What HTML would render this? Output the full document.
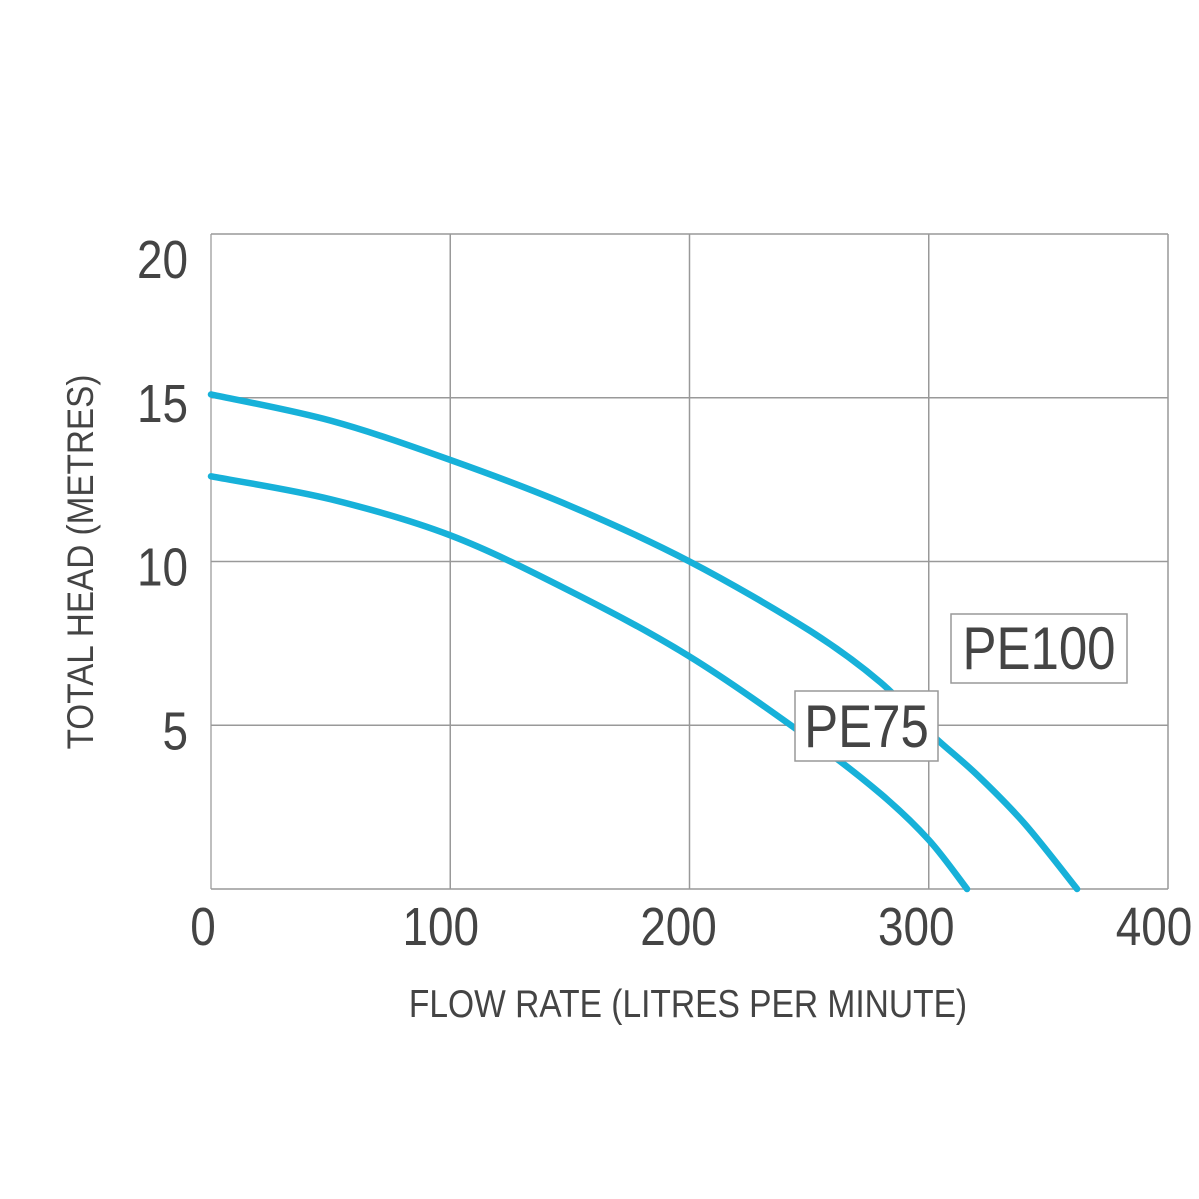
<!DOCTYPE html>
<html><head><meta charset="utf-8"><style>
html,body{margin:0;padding:0;background:#fff;}
svg{display:block;}
text{font-family:"Liberation Sans",sans-serif;fill:#444;}
</style></head><body>
<svg id="chart" width="1199" height="1199" viewBox="0 0 1199 1199" xmlns="http://www.w3.org/2000/svg">
<g id="grid"></g>
<g id="ticks"></g>
<g id="series"></g>
<g id="labels"></g>
<text transform="translate(93,562) rotate(-90) scale(0.9,1)" text-anchor="middle" font-size="37" fill="#444">TOTAL HEAD (METRES)</text>
<text transform="translate(688,1017) scale(0.86,1)" text-anchor="middle" font-size="39" fill="#444">FLOW RATE (LITRES PER MINUTE)</text>
</svg>
<script>
const xTicks = [0, 100, 200, 300, 400];
const yTicks = [5, 10, 15, 20];
const xTickLabels = ["0", "100", "200", "300", "400"];
const yTickLabels = ["5", "10", "15", "20"];
const pe100Flow = [0, 50, 100, 150, 200, 250, 280, 300, 320, 340, 362];
const pe100Head = [15.1, 14.3, 13.1, 11.7, 10.0, 7.9, 6.3, 4.8, 3.5, 2.0, 0];
const pe75Flow = [0, 50, 100, 150, 200, 250, 280, 300, 316];
const pe75Head = [12.6, 11.9, 10.8, 9.1, 7.1, 4.6, 2.9, 1.5, 0];
const seriesNames = ["PE100", "PE75"];

const X0 = 211, X1 = 1168, Y0 = 889, Y1 = 234;
const xs = v => X0 + (v / 400) * (X1 - X0);
const ys = v => Y0 - (v / 20) * (Y0 - Y1);
const NS = "http://www.w3.org/2000/svg";
function mk(tag, parent, attrs) {
  const e = document.createElementNS(NS, tag);
  for (const k in attrs) e.setAttribute(k, attrs[k]);
  parent.appendChild(e);
  return e;
}
const grid = document.getElementById('grid');
const ticks = document.getElementById('ticks');
const series = document.getElementById('series');
const labels = document.getElementById('labels');

xTicks.forEach((t, i) => {
  const l = mk('line', grid, {x1: xs(t), x2: xs(t), y1: Y1, y2: Y0, stroke: i === 0 ? '#aaa' : '#999', 'stroke-width': 1.5});
  
  
  const tx = mk('text', ticks, {transform: `translate(${xs(t) - 8 - i * 1.5},945) scale(0.85,1)`, 'text-anchor': 'middle', 'font-size': 54});
  tx.textContent = xTickLabels[i];
  
  
});
const b = mk('line', grid, {x1: X0, x2: X1, y1: Y0, y2: Y0, stroke: '#999', 'stroke-width': 1.5});


yTicks.forEach((t, i) => {
  const l = mk('line', grid, {x1: X0, x2: X1, y1: ys(t), y2: ys(t), stroke: '#999', 'stroke-width': 1.5});
  
  
  const off = t === 20 ? 44 : 24;
  const tx = mk('text', ticks, {transform: `translate(188,${ys(t) + off}) scale(0.85,1)`, 'text-anchor': 'end', 'font-size': 54});
  tx.textContent = yTickLabels[i];
  
  
});

function curve(fx, fy) {
  const p = fx.map((v, i) => [xs(v), ys(fy[i])]);
  let d = `M${p[0][0]},${p[0][1]}`;
  for (let i = 0; i < p.length - 1; i++) {
    const a = p[i - 1] || p[i], b0 = p[i], c = p[i + 1], e = p[i + 2] || c;
    d += ` C${b0[0] + (c[0] - a[0]) / 6},${b0[1] + (c[1] - a[1]) / 6} ${c[0] - (e[0] - b0[0]) / 6},${c[1] - (e[1] - b0[1]) / 6} ${c[0]},${c[1]}`;
  }
  return d;
}
const c1 = mk('path', series, {d: curve(pe100Flow, pe100Head), fill: 'none', stroke: '#17b1d9', 'stroke-width': 6.5, 'stroke-linecap': 'round'});


const c2 = mk('path', series, {d: curve(pe75Flow, pe75Head), fill: 'none', stroke: '#17b1d9', 'stroke-width': 6.5, 'stroke-linecap': 'round'});



function tag(name, x, y, w, h, dn) {
  const r = mk('rect', labels, {x: x, y: y, width: w, height: h, fill: '#fff', stroke: '#999', 'stroke-width': 1.5});
  
  
  const t = mk('text', labels, {transform: `translate(${x + w / 2},${y + h - 14}) scale(0.85,1)`, 'text-anchor': 'middle', 'font-size': 60, fill: '#444'});
  t.textContent = name;
  
  
}
tag(seriesNames[0], 951, 614, 176, 69, 'pe100-label');
tag(seriesNames[1], 795, 691, 143, 70, 'pe75-label');
</script>
</body></html>
